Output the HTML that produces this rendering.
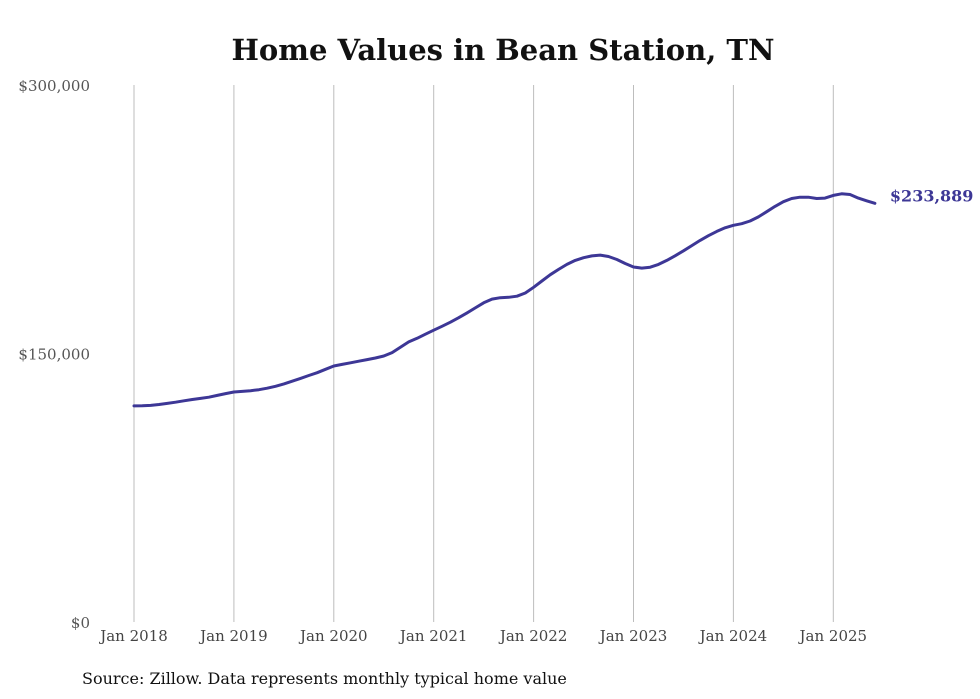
<!DOCTYPE html>
<html><head><meta charset="utf-8"><style>
body{margin:0;background:#fff;}
svg{display:block;font-family:"DejaVu Serif","Liberation Serif",serif;}
</style></head><body>
<svg id="chart" width="980" height="699" viewBox="0 0 980 699">
<text x="503" y="60" text-anchor="middle" font-size="29" font-weight="bold" fill="#111">Home Values in Bean Station, TN</text>
<g id="grid"></g>
<g id="yaxis"></g>
<g id="xaxis"></g>
<path id="line" fill="none" stroke="#3d3796" stroke-width="3" stroke-linejoin="round" stroke-linecap="round"></path>
<text id="endlabel" font-size="16" font-weight="bold" fill="#3d3796"></text>
<text x="82" y="684" font-size="16" fill="#111">Source: Zillow. Data represents monthly typical home value</text>
</svg>
<script>
const yTicks=[0,150000,300000];
const yTickLabels=["$0","$150,000","$300,000"];
const xTickYears=[2018,2019,2020,2021,2022,2023,2024,2025];
const startYear=2018;
const values2018=[120.7,120.8,121.0,121.5,122.1,122.8,123.6,124.3,124.9,125.6,126.6,127.6];
const values2019=[128.5,128.8,129.2,129.8,130.6,131.7,133.0,134.5,136.1,137.7,139.3,141.2];
const values2020=[143.0,143.9,144.8,145.7,146.6,147.5,148.6,150.5,153.5,156.5,158.5,160.8];
const values2021=[163.0,165.2,167.5,170.0,172.7,175.5,178.3,180.4,181.2,181.4,182.0,183.8];
const values2022=[187.0,190.5,194.0,197.0,199.8,202.0,203.5,204.5,205.0,204.2,202.5,200.3];
const values2023=[198.3,197.7,198.2,199.8,202.0,204.6,207.4,210.3,213.2,215.8,218.2,220.2];
const values2024=[221.6,222.5,224.0,226.3,229.2,232.2,234.8,236.6,237.3,237.3,236.6,236.8];
const values2025=[238.3,239.2,238.8,236.8,235.3,233.889];
const series=[].concat(values2018,values2019,values2020,values2021,values2022,values2023,values2024,values2025).map(v=>v*1000);
const NS="http://www.w3.org/2000/svg";
const yScale=v=>622-v/300000*537;
const xScale=m=>134+m*(99.9/12);
const grid=document.getElementById('grid'),xa=document.getElementById('xaxis'),ya=document.getElementById('yaxis');
xTickYears.forEach(yr=>{
 const x=xScale((yr-startYear)*12);
 const l=document.createElementNS(NS,'line');
 l.setAttribute('x1',x);l.setAttribute('x2',x);l.setAttribute('y1',85);l.setAttribute('y2',622);
 l.setAttribute('stroke','#bdbdbd');l.setAttribute('stroke-width','1');
 
 
 grid.appendChild(l);
 const t=document.createElementNS(NS,'text');
 t.setAttribute('x',x);t.setAttribute('y',641);t.setAttribute('text-anchor','middle');
 t.setAttribute('font-size','15');t.setAttribute('fill','#444');
 t.textContent='Jan '+yr;
 
 
 xa.appendChild(t);
});
yTicks.forEach((v,i)=>{
 const t=document.createElementNS(NS,'text');
 t.setAttribute('x',90);t.setAttribute('y',yScale(v)+6);t.setAttribute('text-anchor','end');
 t.setAttribute('font-size','15');t.setAttribute('fill','#555');
 t.textContent=yTickLabels[i];
 
 
 ya.appendChild(t);
});
let d='';
series.forEach((v,i)=>{d+=(i?'L':'M')+xScale(i).toFixed(1)+','+yScale(v).toFixed(1);});
document.getElementById('line').setAttribute('d',d);
const last=series[series.length-1];
const el=document.getElementById('endlabel');
el.setAttribute('x',xScale(series.length-1)+15);
el.setAttribute('y',yScale(last)-2);
el.textContent='$'+Math.round(last).toLocaleString('en-US');
</script>
</body></html>
